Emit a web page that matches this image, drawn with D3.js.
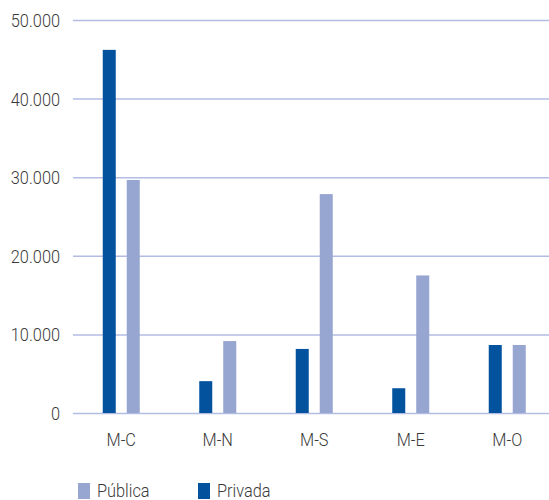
<!DOCTYPE html>
<html>
<head>
<meta charset="utf-8">
<script src="https://cdn.jsdelivr.net/npm/d3@7"></script>
<style>
  body { margin: 0; background: #fff; }
  text { font-family: "Roboto", "Liberation Sans", sans-serif; font-weight: 300; fill: #3a3a3a; }
</style>
</head>
<body>
<svg id="chart"></svg>
<script>
var categories = ["M-C", "M-N", "M-S", "M-E", "M-O"];
var privada = [46200, 4050, 8150, 3150, 8650];
var publica = [29650, 9150, 27850, 17500, 8650];
var yTicks = [0, 10000, 20000, 30000, 40000, 50000];
var seriesNames = ["Pública", "Privada"];
var colors = { "Pública": "#97a5d1", "Privada": "#02529e" };

var width = 549, height = 500;
var narrow = 0.86; // squeeze text, the original uses a condensed face
var svg = d3.select("#chart").attr("width", width).attr("height", height);

var x = d3.scaleBand().domain(categories).range([73, 555.5]).padding(0);
var y = d3.scaleLinear().domain([0, 50000]).range([413, 20]);
var fmt = function (v) { return d3.format(",")(v).replace(/,/g, "."); };

// grid lines
svg.append("g").selectAll("line")
    .data(yTicks)
    .enter()
    .append("line")
    .attr("x1", 73)
    .attr("x2", width)
    .attr("y1", function (d) { return y(d) + 0.5; })
    .attr("y2", function (d) { return y(d) + 0.5; })
    .attr("stroke", "#b3bce3")
    .attr("stroke-width", 1.5);

// y labels
svg.append("g").selectAll("g")
    .data(yTicks)
    .enter()
    .append("g")
    .attr("transform", function (d) { return "translate(60," + (y(d) + 7) + ") scale(" + narrow + ",1)"; })
    .append("text")
    .attr("text-anchor", "end")
    .style("font-size", "19px")
    .text(fmt);

// bars
var cx = function (i) { return x(categories[i]) + x.bandwidth() / 2; };
svg.append("g").selectAll("rect")
    .data(privada)
    .enter()
    .append("rect")
    .attr("x", function (d, i) { return cx(i) - 18.5; })
    .attr("y", function (d) { return y(d); })
    .attr("width", 13)
    .attr("height", function (d) { return y(0) - y(d); })
    .attr("fill", colors["Privada"]);

svg.append("g").selectAll("rect")
    .data(publica)
    .enter()
    .append("rect")
    .attr("x", function (d, i) { return cx(i) + 5.5; })
    .attr("y", function (d) { return y(d); })
    .attr("width", 13)
    .attr("height", function (d) { return y(0) - y(d); })
    .attr("fill", colors["Pública"]);

// category labels
svg.append("g").selectAll("g")
    .data(categories)
    .enter()
    .append("g")
    .attr("transform", function (d, i) { return "translate(" + cx(i) + ",446) scale(" + narrow + ",1)"; })
    .append("text")
    .attr("text-anchor", "middle")
    .style("font-size", "19px")
    .text(function (d) { return d; });

// legend
var legendX = [78, 198];
var lg = svg.append("g").selectAll("g")
    .data(seriesNames)
    .enter()
    .append("g")
    .attr("transform", function (d, i) { return "translate(" + legendX[i] + ",483)"; });
lg.append("rect")
    .attr("width", 12)
    .attr("height", 16)
    .attr("fill", function (d) { return colors[d]; });
lg.append("g")
    .attr("transform", "translate(19,14) scale(" + narrow + ",1)")
    .append("text")
    .style("font-size", "19px")
    .text(function (d) { return d; });
</script>
</body>
</html>
